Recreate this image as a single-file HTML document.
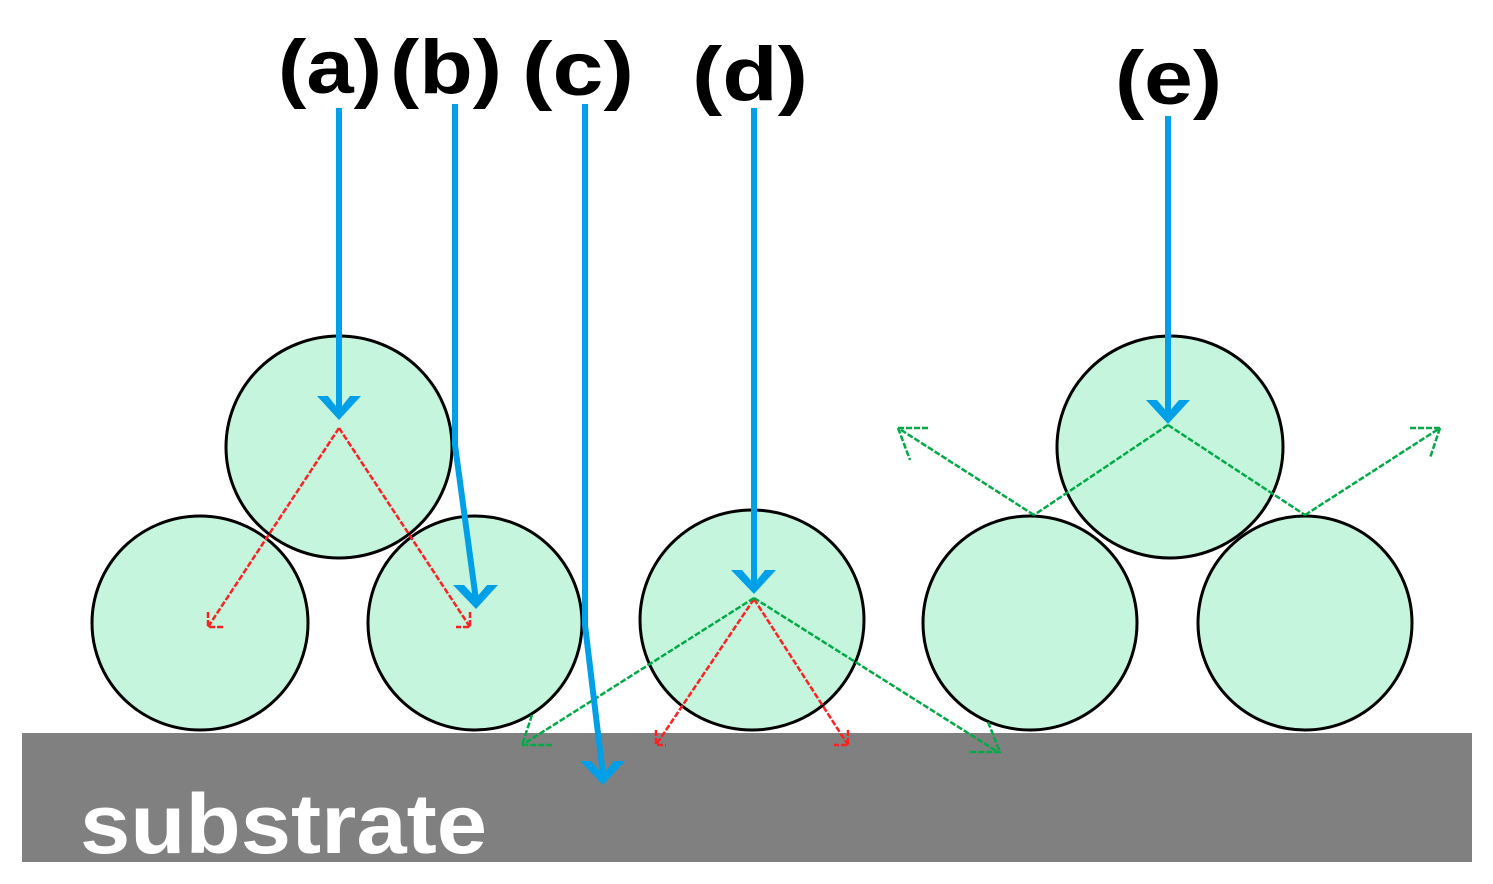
<!DOCTYPE html>
<html><head><meta charset="utf-8"><style>html,body{margin:0;padding:0;background:#fff}svg{display:block}</style></head>
<body>
<svg width="1493" height="884" viewBox="0 0 1493 884" xmlns="http://www.w3.org/2000/svg">
<rect x="22" y="733" width="1450" height="129" fill="#808080"/>
<text x="80" y="853" font-family="Liberation Sans, sans-serif" font-weight="bold" font-size="84" fill="#fff" textLength="407" lengthAdjust="spacingAndGlyphs">substrate</text>
<g fill="#c6f5de" stroke="#000" stroke-width="3">
<ellipse cx="200" cy="623" rx="108" ry="107"/>
<ellipse cx="475" cy="623" rx="107" ry="107"/>
<ellipse cx="339" cy="447" rx="113" ry="111"/>
<ellipse cx="752" cy="620" rx="112" ry="110"/>
<ellipse cx="1030" cy="623" rx="107" ry="107"/>
<ellipse cx="1305" cy="623" rx="107" ry="107"/>
<ellipse cx="1170" cy="447" rx="113" ry="111"/>
</g>
<g stroke="#ff2020" stroke-width="2.5" fill="none" stroke-dasharray="6 2">
<path d="M339 428 L208 627 M339 428 L470 627"/>
<path d="M208 612 L208 627 L224 627 M470 612 L470 627 L456 627"/>
<path d="M754 599 L656 745 M754 599 L848 745"/>
<path d="M656 730 L656 745 L666 745 M848 730 L848 745 L834 745"/>
</g>
<g stroke="#00aa44" stroke-width="2.5" fill="none" stroke-dasharray="6 2">
<path d="M754 598 L522 745 M754 598 L998 752"/>
<path d="M532 715 L522 745 L552 745 M988 722 L1000 752 L968 752"/>
<path d="M1168 425 L1034 515 M1168 425 L1305 515"/>
<path d="M1034 515 L898 428 M1305 515 L1440 428"/>
<path d="M898 428 L930 428 M898 428 L910 460 M1440 428 L1410 428 M1440 428 L1430 458"/>
</g>
<g stroke="#00a0e8" stroke-width="6" fill="none">
<path d="M339 108 L339 410"/>
<path d="M455 104 L455 445 L476 600"/>
<path d="M585 104 L585 625 L603 775"/>
<path d="M754 108 L754 585"/>
<path d="M1168 116 L1168 414"/>
</g>
<g fill="#00a0e8">
<path d="M317 396 L328 396 L339 410 L350 396 L361 396 L339 420 Z"/>
<path d="M453 585 L464 585 L476 598 L487 585 L498 585 L476 609 Z"/>
<path d="M580 761 L591 761 L603 775 L614 761 L625 761 L603 785 Z"/>
<path d="M731 570 L742 570 L754 584 L765 570 L776 570 L754 594 Z"/>
<path d="M1146 400 L1157 400 L1168 413 L1179 400 L1190 400 L1168 424 Z"/>
</g>
<g font-family="Liberation Sans, sans-serif" font-weight="bold" font-size="76" fill="#000">
<text x="278" y="93" textLength="104" lengthAdjust="spacingAndGlyphs">(a)</text>
<text x="390" y="93" textLength="112" lengthAdjust="spacingAndGlyphs">(b)</text>
<text x="522" y="95" textLength="112" lengthAdjust="spacingAndGlyphs">(c)</text>
<text x="692" y="100" textLength="116" lengthAdjust="spacingAndGlyphs">(d)</text>
<text x="1115" y="104" textLength="107" lengthAdjust="spacingAndGlyphs">(e)</text>
</g>
</svg>
</body></html>
